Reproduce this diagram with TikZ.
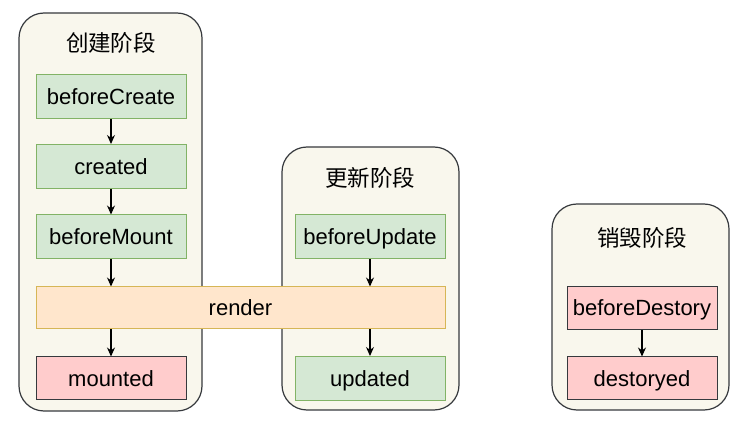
\documentclass[tikz,border=0pt]{standalone}
\usepackage{fontspec}
\setmainfont{Liberation Sans}
\newfontfamily\cjk{Noto Sans CJK SC}
\usetikzlibrary{arrows.meta}
\definecolor{contfill}{HTML}{F9F7ED}
\definecolor{contline}{HTML}{36393D}
\definecolor{gfill}{HTML}{D5E8D4}
\definecolor{gline}{HTML}{82B366}
\definecolor{ofill}{HTML}{FFE6CC}
\definecolor{oline}{HTML}{D6B656}
\definecolor{rfill}{HTML}{FFCCCC}
\tikzset{
  phase/.style={draw=contline, fill=contfill, line width=1.2pt, rounded corners=25pt, inner sep=0pt},
  ptitle/.style={font=\cjk\fontsize{22.5}{26}\selectfont, text=black},
  txt/.style={font=\fontsize{22}{26}\selectfont, text height=17pt, text depth=1pt, inner sep=0pt},
  gbox/.style={txt, draw=gline, fill=gfill, line width=1pt, minimum width=150pt, minimum height=44pt},
  rbox/.style={txt, draw=contline, fill=rfill, line width=1pt, minimum width=150pt, minimum height=43pt},
  obox/.style={txt, draw=oline, fill=ofill, line width=1pt, minimum width=409pt, minimum height=42pt},
  arr/.style={-{Stealth[length=9pt,width=8pt]}, line width=1.2pt, black}
}
\begin{document}
\begin{tikzpicture}[x=1pt,y=1pt]
\useasboundingbox (0,0) rectangle (748,-430);
% containers
\node[phase, minimum width=183pt, minimum height=398pt] (c1) at (110.5,-212) {};
\node[phase, minimum width=177pt, minimum height=263pt] (c2) at (370.5,-278.5) {};
\node[phase, minimum width=177pt, minimum height=206pt] (c3) at (640.5,-307) {};
% titles
\node[ptitle] (t1) at (111,-43) {创建阶段};
\node[ptitle] (t2) at (370,-178) {更新阶段};
\node[ptitle] (t3) at (642,-238) {销毁阶段};
% boxes
\node[gbox] (bc) at (111,-97) {beforeCreate};
\node[gbox] (cr) at (111,-166.5) {created};
\node[gbox] (bm) at (111,-237) {beforeMount};
\node[obox] (rd) at (240.5,-308) {render};
\node[rbox] (mt) at (111,-378.5) {mounted};
\node[gbox] (bu) at (370,-237) {beforeUpdate};
\node[gbox] (up) at (370,-378.5) {updated};
\node[rbox] (bd) at (642,-308) {beforeDestory};
\node[rbox] (ds) at (642,-378.5) {destoryed};
% arrows
\draw[arr] (bc) -- (cr);
\draw[arr] (cr) -- (bm);
\draw[arr] (bm.south) -- (bm.south |- rd.north);
\draw[arr] (mt.north |- rd.south) -- (mt.north);
\draw[arr] (bu.south) -- (bu.south |- rd.north);
\draw[arr] (up.north |- rd.south) -- (up.north);
\draw[arr] (bd) -- (ds);
\end{tikzpicture}
\end{document}
